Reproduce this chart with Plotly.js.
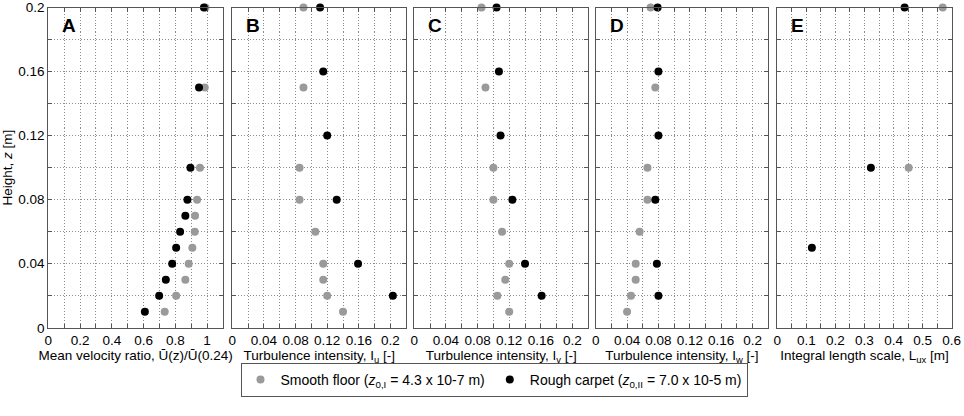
<!DOCTYPE html>
<html>
<head>
<meta charset="utf-8">
<script src="https://cdn.plot.ly/plotly-3.0.1.min.js"></script>
<style>html,body{margin:0;padding:0;background:#fff;}#chart{width:964px;height:416px;}</style>
</head>
<body>
<div id="chart"></div>
<script>
// Heights [m]
const zA = [0.01, 0.02, 0.03, 0.04, 0.05, 0.06, 0.07, 0.08, 0.10, 0.15, 0.20];
const zSmooth = [0.01, 0.02, 0.03, 0.04, 0.06, 0.08, 0.10, 0.15, 0.20];
const zRough = [0.02, 0.04, 0.08, 0.12, 0.16, 0.20];
const zESmooth = [0.10, 0.20];
const zERough = [0.05, 0.10, 0.20];

// A: mean velocity ratio
const velSmooth = [0.733, 0.805, 0.863, 0.884, 0.907, 0.922, 0.924, 0.937, 0.955, 0.985, 0.99];
const velRough  = [0.608, 0.698, 0.740, 0.780, 0.805, 0.830, 0.863, 0.876, 0.895, 0.949, 0.98];
// B: Iu
const iuSmooth = [0.140, 0.120, 0.115, 0.115, 0.105, 0.085, 0.085, 0.090, 0.090];
const iuRough  = [0.203, 0.159, 0.132, 0.120, 0.115, 0.111];
// C: Iv
const ivSmooth = [0.120, 0.105, 0.115, 0.120, 0.111, 0.100, 0.100, 0.090, 0.085];
const ivRough  = [0.161, 0.140, 0.124, 0.109, 0.107, 0.104];
// D: Iw
const iwSmooth = [0.040, 0.045, 0.051, 0.051, 0.056, 0.066, 0.066, 0.076, 0.070];
const iwRough  = [0.080, 0.078, 0.076, 0.080, 0.080, 0.079];
// E: Lux
const luxSmooth = [0.452, 0.569];
const luxRough  = [0.119, 0.322, 0.438];

const panelLetters = ['A', 'B', 'C', 'D', 'E'];
const xTitles = [
  'Mean velocity ratio, Ū(z)/Ū(0.24)',
  'Turbulence intensity, I<sub>u</sub> [-]',
  'Turbulence intensity, I<sub>v</sub> [-]',
  'Turbulence intensity, I<sub>w</sub> [-]',
  'Integral length scale, L<sub>ux</sub> [m]'
];
const legendSmooth = 'Smooth floor (<i>z</i><sub>0,I</sub> = 4.3 x 10-7 m)';
const legendRough = 'Rough carpet (<i>z</i><sub>0,II</sub> = 7.0 x 10-5 m)';

const W = 964, H = 416;
const lefts = [48.3, 232.3, 414.3, 595.7, 777.3];
const widths = [174.7, 174.0, 174.0, 172.5, 174.4];
const xRanges = [[0, 1.1], [0, 0.22], [0, 0.22], [0, 0.22], [0, 0.6]];
const xDticks = [0.2, 0.04, 0.04, 0.04, 0.1];
const xMinor = [0.1, 0.02, 0.02, 0.02, 0.05];
const yTop = 7.5, yBot = 327.8;

const GRAY = '#9a9a9a';
const GRID = '#8c8c8c';
const FONT = 'Liberation Sans, Arial, sans-serif';

const series = [
  [zA, velSmooth, zA, velRough],
  [zSmooth, iuSmooth, zRough, iuRough],
  [zSmooth, ivSmooth, zRough, ivRough],
  [zSmooth, iwSmooth, zRough, iwRough],
  [zESmooth, luxSmooth, zERough, luxRough]
];

const traces = [];
const layout = {
  width: W, height: H,
  margin: {l: 0, r: 0, t: 0, b: 0},
  paper_bgcolor: '#fff', plot_bgcolor: '#fff',
  font: {family: FONT, size: 13, color: '#000'},
  showlegend: true,
  legend: {
    orientation: 'h',
    x: 494 / W, xanchor: 'center',
    y: 1 - 380 / H, yanchor: 'middle',
    bordercolor: '#555', borderwidth: 1,
    bgcolor: '#fff',
    font: {family: FONT, size: 14, color: '#000'},
    tracegroupgap: 0,
    itemwidth: 30
  },
  annotations: [],
  shapes: []
};

for (let i = 0; i < 5; i++) {
  const ax = i === 0 ? '' : String(i + 1);
  const [zs, vs, zr, vr] = series[i];
  traces.push({
    type: 'scatter', mode: 'markers',
    x: vs, y: zs,
    xaxis: 'x' + ax, yaxis: 'y' + ax,
    marker: {color: GRAY, size: 8},
    cliponaxis: false,
    name: legendSmooth,
    legendgroup: 's',
    showlegend: i === 0
  });
  traces.push({
    type: 'scatter', mode: 'markers',
    x: vr, y: zr,
    xaxis: 'x' + ax, yaxis: 'y' + ax,
    marker: {color: '#000', size: 8},
    cliponaxis: false,
    name: legendRough,
    legendgroup: 'r',
    showlegend: i === 0
  });
  const gridCommon = {
    showgrid: true, gridcolor: GRID, griddash: '1px,2px', gridwidth: 1,
  };
  const minorCommon = {ticks: 'inside', ticklen: 4, tickcolor: '#555',
            showgrid: true, gridcolor: GRID, griddash: '1px,2px', gridwidth: 1};
  layout['xaxis' + ax] = Object.assign({
    domain: [lefts[i] / W, (lefts[i] + widths[i]) / W],
    anchor: 'y' + ax,
    range: xRanges[i],
    dtick: xDticks[i], tick0: 0,
    ticks: 'inside', ticklen: 4, tickcolor: '#555',
    showline: true, mirror: 'ticks', linecolor: '#555', linewidth: 1,
    zeroline: false,
    tickfont: {family: FONT, size: 13.5, color: '#000'},
    minor: Object.assign({dtick: xMinor[i], tick0: 0}, minorCommon),
    title: {text: xTitles[i], font: {family: FONT, size: 13.5, color: '#000'}, standoff: 2},
    fixedrange: true
  }, gridCommon);
  layout['yaxis' + ax] = Object.assign({
    domain: [1 - yBot / H, 1 - yTop / H],
    anchor: 'x' + ax,
    range: [0, 0.2],
    dtick: 0.04, tick0: 0,
    ticks: 'inside', ticklen: 4, tickcolor: '#555',
    showline: true, mirror: 'ticks', linecolor: '#555', linewidth: 1,
    zeroline: false,
    showticklabels: i === 0,
    tickfont: {family: FONT, size: 13.5, color: '#000'},
    minor: Object.assign({dtick: 0.02, tick0: 0}, minorCommon),
    fixedrange: true
  }, gridCommon);
  if (i === 0) {
    layout['yaxis' + ax].title = {text: 'Height, <i>z</i> [m]', font: {family: FONT, size: 13.5, color: '#000'}, standoff: 4};
  }
  layout.annotations.push({
    xref: 'paper', yref: 'paper',
    x: (lefts[i] + 12) / W, y: 1 - 25 / H,
    xanchor: 'left', yanchor: 'middle',
    text: '<b>' + panelLetters[i] + '</b>',
    showarrow: false,
    font: {family: FONT, size: 19, color: '#000'}
  });
}

Plotly.newPlot('chart', traces, layout, {displayModeBar: false, staticPlot: true});
</script>
</body>
</html>
